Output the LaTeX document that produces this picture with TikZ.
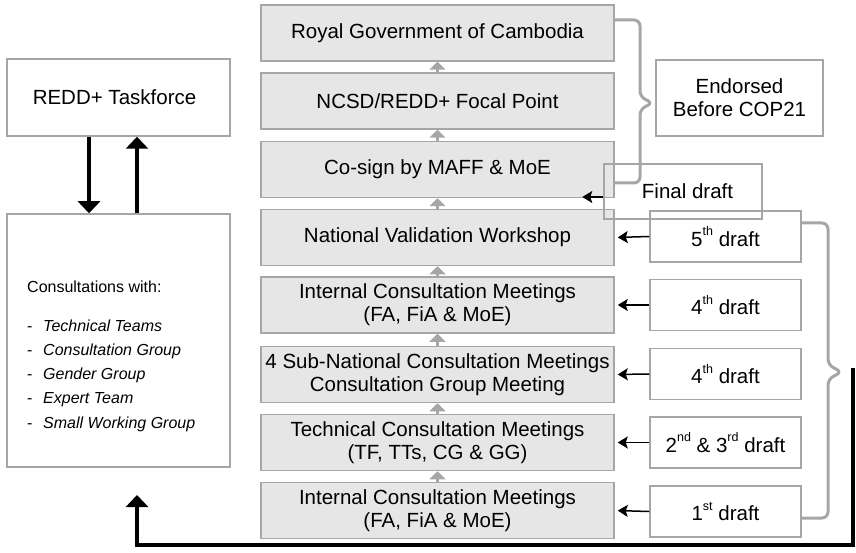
\documentclass[tikz,border=0pt]{standalone}
\usepackage{fontspec}
\setmainfont{Liberation Sans}
\usetikzlibrary{arrows.meta}
\definecolor{boxfill}{HTML}{E7E6E6}
\definecolor{boxline}{HTML}{A6A6A6}
\newcommand{\ordsup}[1]{\raisebox{0.5em}{\fontsize{12.5}{12.5}\selectfont #1}}
\begin{document}
\begin{tikzpicture}[x=1pt,y=-1pt,
    stage/.style={draw=boxline,line width=1.5pt,fill=boxfill,minimum width=353pt,minimum height=56pt,inner sep=0pt,align=center,font=\fontsize{20.5}{23}\selectfont},
    draftbox/.style={draw=boxline,line width=1.5pt,fill=white,minimum width=151pt,minimum height=51pt,inner sep=0pt,align=center,font=\fontsize{20.5}{23}\selectfont},
    sidebox/.style={draw=boxline,line width=1.5pt,fill=white,minimum width=223pt,inner sep=0pt,align=center,font=\fontsize{20.5}{23}\selectfont},
    uparrow/.style={-{Triangle[width=16pt,length=8pt]},draw=boxline,line width=2.5pt},
    thinarrow/.style={-{Stealth[length=10pt,width=12pt,inset=2pt]},line width=1.5pt,shorten >=3pt},
    bigarrow/.style={-{Triangle[width=22pt,length=12pt]},line width=4pt},
    bracket/.style={draw=boxline,line width=3pt,rounded corners=6pt}]
    \useasboundingbox (0,0) rectangle (856,553);

    % stages
    \node[stage] (rgc) at (437.5,33) {Royal Government of Cambodia};
    \node[stage] (ncsd) at (437.5,101) {NCSD/REDD+ Focal Point};
    \node[stage] (cosign) at (437.5,169.5) {Co-sign by MAFF \& MoE};
    \node[stage] (nvw) at (437.5,237.5) {National Validation Workshop};
    \node[stage] (icmb) at (437.5,305) {Internal Consultation Meetings\\(FA, FiA \& MoE)};
    \node[stage] (sncm) at (437.5,374.5) {4 Sub-National Consultation Meetings\\Consultation Group Meeting};
    \node[stage] (tcm) at (437.5,442.5) {Technical Consultation Meetings\\(TF, TTs, CG \& GG)};
    \node[stage] (icma) at (437.5,510.5) {Internal Consultation Meetings\\(FA, FiA \& MoE)};

    \draw[uparrow] (ncsd.north) -- (rgc.south);
    \draw[uparrow] (cosign.north) -- (ncsd.south);
    \draw[uparrow] (nvw.north) -- (cosign.south);
    \draw[uparrow] (icmb.north) -- (nvw.south);
    \draw[uparrow] (sncm.north) -- (icmb.south);
    \draw[uparrow] (tcm.north) -- (sncm.south);
    \draw[uparrow] (icma.north) -- (tcm.south);

    % drafts
    \node[draftbox] (dfive) at (725.5,236.5) {5\ordsup{th} draft};
    \node[draftbox] (dfourb) at (725.5,305) {4\ordsup{th} draft};
    \node[draftbox] (dfoura) at (725.5,374) {4\ordsup{th} draft};
    \node[draftbox] (dtwo) at (725.5,442.5) {2\ordsup{nd} \& 3\ordsup{rd} draft};
    \node[draftbox] (done) at (725.5,511.5) {1\ordsup{st} draft};

    \draw[thinarrow] (dfive.west) -- (nvw.east);
    \draw[thinarrow] (dfourb.west) -- (icmb.east);
    \draw[thinarrow] (dfoura.west) -- (sncm.east);
    \draw[thinarrow] (dtwo.west) -- (tcm.east);
    \draw[thinarrow] (done.west) -- (icma.east);

    \node[draftbox,minimum width=167pt,minimum height=76pt] (endorsed) at (739.5,98) {Endorsed\\Before COP21};
    \node[draw=boxline,line width=1.5pt,minimum width=158pt,minimum height=55pt,inner sep=0pt,font=\fontsize{20.5}{23}\selectfont] (final) at (683,191.5) {\hspace{9pt}Final draft};
    \draw[thinarrow,shorten >=0pt] ([yshift=-5.5pt]final.west) -- ++(-21,0);

    % brackets
    \draw[bracket] ([yshift=13pt]rgc.east) -- (640,20) -- (640,97) -- (653,103) -- (640,109) -- (640,183) -- ([yshift=-13.5pt]cosign.east);
    \draw[bracket] ([yshift=13.5pt]dfive.east) -- (828,223) -- (828,365) -- (842,372) -- (828,379) -- (828,518) -- ([yshift=-6.5pt]done.east);

    % taskforce and consultations
    \node[sidebox,minimum height=77pt] (taskforce) at (118.5,97.5) {REDD+ Taskforce\hspace{8pt}};
    \node[sidebox,minimum height=253pt] (consult) at (118.5,340.5) {};
    \node[anchor=north west,align=left,inner sep=0pt,font=\fontsize{16}{24.3}\selectfont] (consultlist) at (27,281) {Consultations with:\\[14pt]
        \makebox[16pt][l]{-}\textit{Technical Teams}\\
        \makebox[16pt][l]{-}\textit{Consultation Group}\\
        \makebox[16pt][l]{-}\textit{Gender Group}\\
        \makebox[16pt][l]{-}\textit{Expert Team}\\
        \makebox[16pt][l]{-}\textit{Small Working Group}};

    \draw[bigarrow] ([xshift=-29.5pt]taskforce.south) -- ([xshift=-29.5pt]consult.north);
    \draw[bigarrow] ([xshift=18.5pt]consult.north) -- ([xshift=18.5pt]taskforce.south);

    \coordinate (loopstart) at (853,368);
    \coordinate (loopend) at (137,495);
    \draw[bigarrow] (loopstart) -- ++(0,177) -| (loopend);
\end{tikzpicture}
\end{document}
